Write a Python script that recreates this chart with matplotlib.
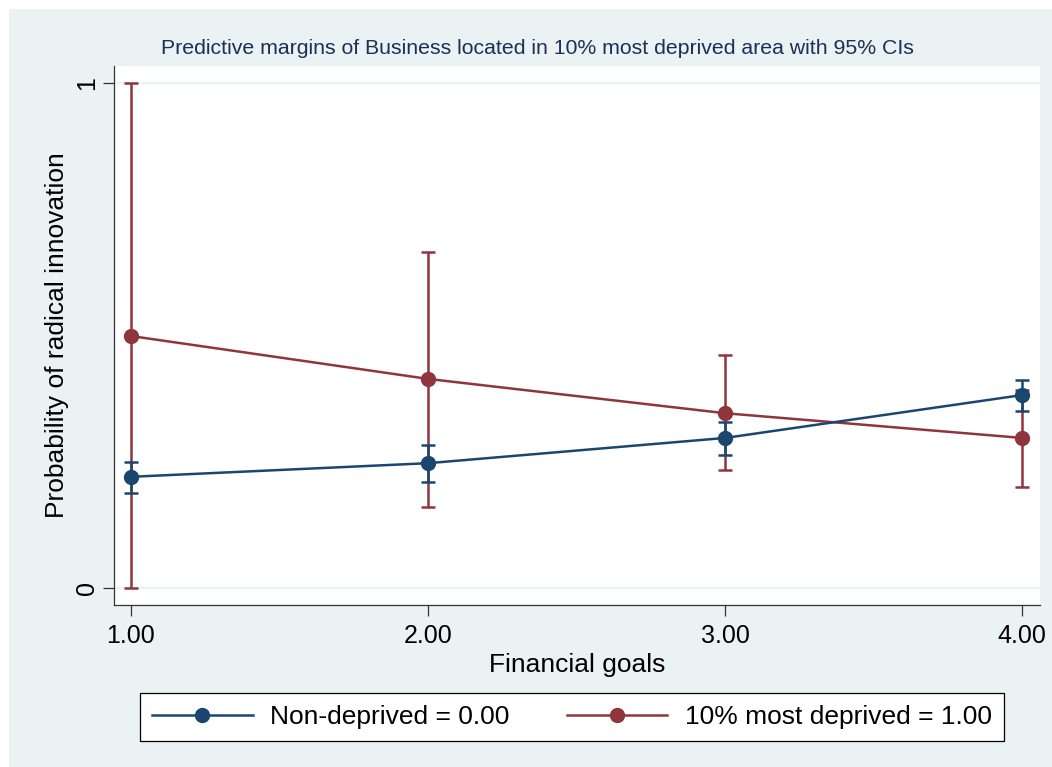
import matplotlib.pyplot as plt
from matplotlib.patches import Rectangle
from matplotlib.lines import Line2D

# predictive margins by financial goals, with 95% CIs
goals = [1, 2, 3, 4]
goal_labels = ["1.00", "2.00", "3.00", "4.00"]

nondep_margin = [0.220, 0.247, 0.297, 0.382]
nondep_lo = [0.188, 0.210, 0.263, 0.350]
nondep_hi = [0.250, 0.283, 0.329, 0.412]

dep_margin = [0.499, 0.414, 0.346, 0.297]
dep_lo = [0.000, 0.160, 0.234, 0.200]
dep_hi = [1.000, 0.665, 0.461, 0.392]

NAVY = "#1A476F"
MAROON = "#90353B"
BG = "#EAF2F3"
LW = 1.8

plt.rcParams["font.family"] = ["Liberation Sans", "DejaVu Sans"]

fig = plt.figure(figsize=(10.52, 7.67), dpi=100, facecolor="white")
# graph region background (thin white margin top/left)
fig.patches.append(Rectangle((9 / 1052, 0), 1, 1 - 9 / 767, transform=fig.transFigure,
                             facecolor=BG, edgecolor="none", zorder=-10))

ax = fig.add_axes([114 / 1052, 1 - 605 / 767, 926 / 1052, 539 / 767])
ax.set_facecolor("white")

for y in (0, 1):
    ax.axhline(y, color=BG, lw=1.6, zorder=1)


def err(m, lo, hi):
    return [[a - b for a, b in zip(m, lo)], [b - a for a, b in zip(m, hi)]]


ax.errorbar(goals, dep_margin, yerr=err(dep_margin, dep_lo, dep_hi), fmt="none",
            ecolor=MAROON, elinewidth=LW, capsize=5, capthick=LW, zorder=2)
ax.errorbar(goals, nondep_margin, yerr=err(nondep_margin, nondep_lo, nondep_hi), fmt="none",
            ecolor=NAVY, elinewidth=LW, capsize=5, capthick=LW, zorder=3)
ax.plot(goals, dep_margin, color=MAROON, lw=LW, marker="o", markersize=10, zorder=4)
ax.plot(goals, nondep_margin, color=NAVY, lw=LW, marker="o", markersize=10, zorder=5)

ax.set_xlim(0.943, 4.06)
ax.set_ylim(-0.034, 1.034)
ax.set_xticks(goals)
ax.set_xticklabels(goal_labels)
ax.set_yticks([0, 1])
ax.set_yticklabels(["0", "1"], rotation=90, va="center")

for s in ("top", "right"):
    ax.spines[s].set_visible(False)
for s in ("left", "bottom"):
    ax.spines[s].set_color("#333333")
    ax.spines[s].set_linewidth(0.9)

ax.tick_params(axis="both", length=8, width=0.9, color="#333333", labelsize=18)
ax.tick_params(axis="x", pad=6)
ax.tick_params(axis="y", pad=3)

ax.set_xlabel("Financial goals", fontsize=19, labelpad=3)
ax.set_ylabel("Probability of radical innovation", fontsize=19, labelpad=4)

fig.text(0.511, 1 - 48 / 767, "Predictive margins of Business located in 10% most deprived area with 95% CIs",
         ha="center", va="center", fontsize=15.3, color="#1C2F55")

handles = [
    Line2D([], [], color=NAVY, lw=LW, marker="o", markersize=10),
    Line2D([], [], color=MAROON, lw=LW, marker="o", markersize=10),
]
leg = fig.legend(handles, ["Non-deprived = 0.00", "10% most deprived = 1.00"],
                 loc="center", bbox_to_anchor=(572 / 1052, 1 - 717 / 767), ncol=2,
                 fontsize=19, handlelength=3.8, handletextpad=0.65, columnspacing=2.2,
                 borderpad=0.45, fancybox=False, framealpha=1, edgecolor="black")
leg.get_frame().set_linewidth(0.9)

fig.savefig("out.png", dpi=100, facecolor=fig.get_facecolor())
